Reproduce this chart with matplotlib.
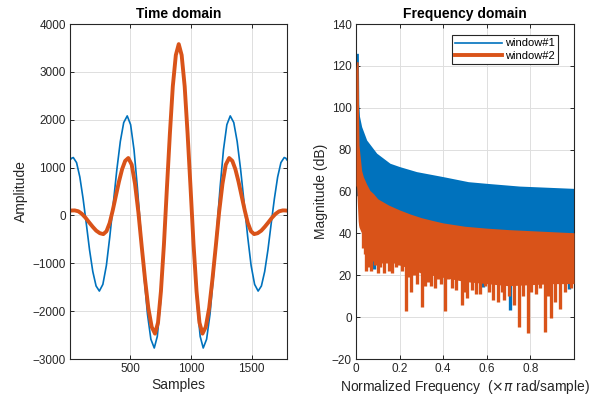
import matplotlib
matplotlib.use('Agg')
from matplotlib import pyplot as plt
from matplotlib.lines import Line2D

plt.rcParams['font.family'] = ['Liberation Sans', 'DejaVu Sans']

# time domain
blue_x = [1, 14, 28, 55, 82, 109, 136, 162, 189, 216, 243, 272, 301, 329, 358, 387, 416, 444,
          473, 501, 529, 557, 585, 612, 640, 668, 696, 721, 747, 772, 797, 822, 848, 873, 898,
          923, 948, 974, 999, 1024, 1049, 1075, 1100, 1128, 1156, 1184, 1211, 1239, 1267, 1295,
          1323, 1352, 1380, 1409, 1438, 1467, 1495, 1524, 1553, 1580, 1607, 1634, 1660, 1687,
          1714, 1741, 1768, 1782, 1791]
blue_y = [1160, 1195, 1210, 1104, 803, 348, -185, -718, -1173, -1474, -1580, -1441, -1046, -449,
          250, 949, 1546, 1941, 2080, 1896, 1372, 581, -345, -1271, -2062, -2586, -2770, -2529,
          -1843, -808, 405, 1618, 2653, 3339, 3580, 3339, 2653, 1618, 405, -808, -1843, -2529,
          -2770, -2586, -2062, -1271, -345, 581, 1372, 1896, 2080, 1941, 1546, 949, 250, -449,
          -1046, -1441, -1580, -1474, -1173, -718, -185, 348, 803, 1104, 1210, 1195, 1160]
orange_x = [1, 20, 40, 70, 99, 129, 158, 188, 217, 247, 276, 302, 328, 353, 379, 405, 431, 456,
            482, 510, 537, 565, 592, 620, 647, 675, 702, 727, 751, 776, 800, 825, 849, 874, 898,
            922, 947, 971, 996, 1020, 1045, 1069, 1094, 1121, 1149, 1176, 1204, 1231, 1259, 1286,
            1314, 1340, 1365, 1391, 1417, 1443, 1468, 1494, 1520, 1549, 1579, 1608, 1638, 1667,
            1697, 1726, 1756, 1776, 1791]
orange_y = [100, 104, 105, 86, 33, -48, -143, -237, -318, -371, -390, -330, -158, 101, 405, 709,
            968, 1140, 1200, 1061, 664, 66, -635, -1336, -1934, -2331, -2470, -2240, -1587, -601,
            555, 1711, 2697, 3350, 3580, 3350, 2697, 1711, 555, -601, -1587, -2240, -2470, -2331,
            -1934, -1336, -635, 66, 664, 1061, 1200, 1140, 968, 709, 405, 101, -158, -330, -390,
            -371, -318, -237, -143, -48, 33, 86, 105, 104, 100]

# frequency domain: band envelopes (dB)
blue_f = [0.0, 0.002, 0.011, 0.013, 0.016, 0.026, 0.049, 0.095, 0.156, 0.2, 0.278, 0.4, 0.515,
          0.6, 0.75, 1.0]
blue_hi = [62, 126, 126, 102, 96, 91, 84.6, 78.3, 73.5, 71.9, 69.5, 67.1, 64.7, 63.9, 62.6, 61.5]
blue_lo = [58, 58, 58, 58, 56, 53, 50, 45, 42, 40, 38, 36, 35, 34, 33, 32]

or_f = [0.0, 0.003, 0.010, 0.012, 0.014, 0.018, 0.026, 0.034, 0.049, 0.064, 0.08, 0.1, 0.125,
        0.15, 0.2, 0.25, 0.3, 0.35, 0.4, 0.45, 0.5, 0.6, 0.7, 0.8, 0.9, 1.0]
or_hi = [118, 122, 122, 95, 82, 78, 70, 67, 63.5, 60.5, 59, 56.5, 55, 53.5, 51.2, 49.2, 47.5,
         46.2, 45, 44.2, 43.4, 42.5, 41.8, 41.3, 40.8, 40.3]
or_lo = [63, 62, 46, 44, 43, 42, 40, 37, 34, 33, 32, 30, 29, 27, 25, 23, 21, 20, 19, 18, 17, 16,
         15, 15.5, 16, 16]

# deep notches
blue_dip_f = [0.083, 0.581, 0.706, 0.975]
blue_dip_v = [23, 14.5, 3.4, 13.4]
or_dip_f = [0.031, 0.040, 0.046, 0.053, 0.060, 0.067, 0.075, 0.088, 0.100, 0.110, 0.118, 0.130,
            0.140, 0.152, 0.164, 0.175, 0.185, 0.197, 0.213, 0.229, 0.240, 0.252, 0.265, 0.278,
            0.301, 0.315, 0.330, 0.345, 0.362, 0.375, 0.390, 0.408, 0.420, 0.440, 0.460, 0.485,
            0.500, 0.510, 0.530, 0.550, 0.569, 0.590, 0.610, 0.630, 0.652, 0.668, 0.680, 0.700,
            0.726, 0.749, 0.765, 0.787, 0.805, 0.825, 0.845, 0.867, 0.880, 0.893, 0.913, 0.936,
            0.960, 0.985]
or_dip_v = [33, 30, 22, 29, 24, 22, 27, 25, 21, 24, 26, 21, 26, 22, 21, 26, 24, 25, 22, 3, 19,
            12, 20, 16, 5, 15, 17, 15, 14, 18, 16, 3, 18, 14, 13, 6, 12, 9, 13, 11, 11, 15, 12, 8,
            7, 12, 8, 10, 6, -4.6, 10, -7.7, 12, 11, 14, -7, 10, -0.5, 7, 4, 12, 14]

c1 = '#0072BD'
c2 = '#D95319'
txt = '#262626'

fig = plt.figure(figsize=(6.01, 3.97), dpi=100)
ax1 = fig.add_axes([0.1165, 0.0957, 0.361, 0.8438])
ax2 = fig.add_axes([0.5923, 0.0957, 0.3627, 0.8438])

for ax in (ax1, ax2):
    ax.grid(True, color='#dedede', lw=0.7)
    ax.set_axisbelow(True)
    ax.tick_params(direction='in', top=True, right=True, length=3, width=0.7,
                   labelsize=8.5, colors=txt, pad=3)
    for s in ax.spines.values():
        s.set_color(txt)
        s.set_linewidth(0.8)

ax1.plot(blue_x, blue_y, color=c1, lw=1.2)
ax1.plot(orange_x, orange_y, color=c2, lw=2.8)
ax1.set_xlim(1, 1791)
ax1.set_ylim(-3000, 4000)
ax1.set_xticks([500, 1000, 1500])
ax1.set_yticks(range(-3000, 4001, 1000))
ax1.set_title('Time domain', fontsize=10, fontweight='bold', color='black', pad=4)
ax1.set_xlabel('Samples', fontsize=10, color=txt, labelpad=2)
ax1.set_ylabel('Amplitude', fontsize=10, color=txt, labelpad=3)

ax2.fill_between(blue_f, blue_lo, blue_hi, color=c1, lw=0, zorder=2)
ax2.vlines(blue_dip_f, blue_dip_v, 40, color=c1, lw=2.4, zorder=2)
ax2.fill_between(or_f, or_lo, or_hi, color=c2, lw=0, zorder=3)
ax2.vlines(or_dip_f, or_dip_v, 40, color=c2, lw=2.4, zorder=3)
ax2.set_xlim(0, 1)
ax2.set_ylim(-20, 140)
ax2.set_xticks([0, 0.2, 0.4, 0.6, 0.8])
ax2.set_xticklabels(['0', '0.2', '0.4', '0.6', '0.8'])
ax2.set_yticks(range(-20, 141, 20))
ax2.set_title('Frequency domain', fontsize=10, fontweight='bold', color='black', pad=4)
ax2.set_xlabel(r'Normalized Frequency  ($\times\pi$ rad/sample)', fontsize=10, color=txt,
               labelpad=2)
ax2.set_ylabel('Magnitude (dB)', fontsize=10, color=txt, labelpad=3)

handles = [Line2D([], [], color=c1, lw=1.2), Line2D([], [], color=c2, lw=2.8)]
leg = ax2.legend(handles, ['window#1', 'window#2'], loc='upper right',
                 bbox_to_anchor=(0.927, 0.967), fontsize=8, handlelength=4.2,
                 fancybox=False, framealpha=1, borderpad=0.3, labelspacing=0.2,
                 handletextpad=0.3, borderaxespad=0)
leg.get_frame().set_edgecolor(txt)
leg.get_frame().set_linewidth(0.8)

fig.savefig('out.png', dpi=100)
